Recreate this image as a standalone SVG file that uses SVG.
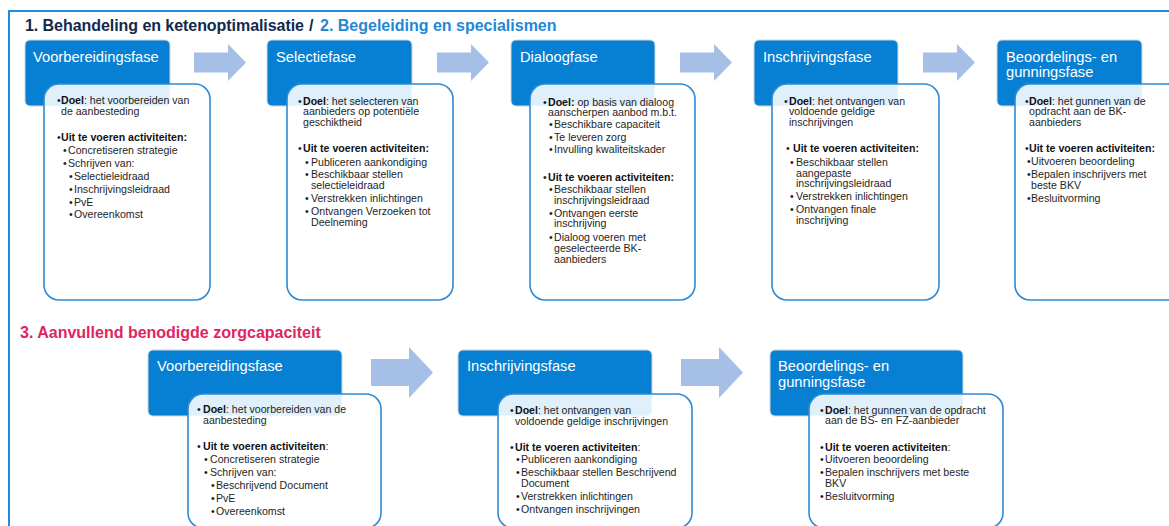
<svg xmlns="http://www.w3.org/2000/svg" width="1169" height="526" viewBox="0 0 1169 526">
<style>
.frame{fill:none;stroke:#1f8be0;stroke-width:2}
.hdr{fill:#0780d3;stroke:#cfd8e2;stroke-width:1}
.card{fill:#ffffff;fill-opacity:0.88;stroke:#2f8ad5;stroke-width:1.6}
.arrow{fill:#a6bfe7}
.ht{font-family:"Liberation Sans",Arial,sans-serif;font-size:14.7px;fill:#ffffff}
.t{font-family:"Liberation Sans",Arial,sans-serif;font-size:10.6px;fill:#1e1e1e}
.b{font-weight:bold;fill:#111111}
.ti{font-family:"Liberation Sans",Arial,sans-serif;font-weight:bold;font-size:16px}
</style>
<defs>
<path id="arT" d="M0,52.5 H34 V44 L52,62.5 L34,81 V72.5 H0 Z"/>
<path id="arB" d="M0,359 H38 V347 L62,372.5 L38,398 V386 H0 Z"/>
</defs>
<rect width="1169" height="526" fill="#ffffff"/>
<rect class="frame" x="9" y="11" width="1200" height="600"/>
<g id="titles">
<text class="ti" x="25" y="31" fill="#13294b" textLength="279">1. Behandeling en ketenoptimalisatie</text>
<text class="ti" x="309" y="31" fill="#13294b">/</text>
<text class="ti" x="320" y="31" fill="#1f87d6">2. Begeleiding en specialismen</text>
<text class="ti" x="20" y="338" fill="#e0245e">3. Aanvullend benodigde zorgcapaciteit</text>
</g>
<g id="connectors">
<use href="#arT" class="arrow" x="194"/>
<use href="#arT" class="arrow" x="437"/>
<use href="#arT" class="arrow" x="680"/>
<use href="#arT" class="arrow" x="923"/>
<use href="#arB" class="arrow" x="371"/>
<use href="#arB" class="arrow" x="681"/>
</g>
<g id="top-voorbereidingsfase">
<rect class="hdr" x="25" y="40" width="145" height="66" rx="5"/>
<text class="ht" x="33" y="62">Voorbereidingsfase</text>
<rect class="card" x="44" y="84" width="166" height="216" rx="15"/>
<text class="t" y="104"><tspan x="57">•</tspan><tspan x="61" class="b">Doel</tspan>: het voorbereiden van</text>
<text class="t" x="61" y="115">de aanbesteding</text>
<text class="t" y="141"><tspan x="57">•</tspan><tspan x="61" class="b">Uit te voeren activiteiten:</tspan></text>
<text class="t" y="154"><tspan x="63">•</tspan><tspan x="68">Concretiseren strategie</tspan></text>
<text class="t" y="167"><tspan x="63">•</tspan><tspan x="68">Schrijven van:</tspan></text>
<text class="t" y="180"><tspan x="69">•</tspan><tspan x="74">Selectieleidraad</tspan></text>
<text class="t" y="193"><tspan x="69">•</tspan><tspan x="74">Inschrijvingsleidraad</tspan></text>
<text class="t" y="206"><tspan x="69">•</tspan><tspan x="74">PvE</tspan></text>
<text class="t" y="218"><tspan x="69">•</tspan><tspan x="74">Overeenkomst</tspan></text>
</g>
<g id="top-selectiefase">
<rect class="hdr" x="267" y="40" width="145" height="66" rx="5"/>
<text class="ht" x="276" y="62">Selectiefase</text>
<rect class="card" x="287" y="84" width="166" height="216" rx="15"/>
<text class="t" y="105"><tspan x="298">•</tspan><tspan x="303" class="b">Doel</tspan>: het selecteren van</text>
<text class="t" x="303" y="115">aanbieders op potentiële</text>
<text class="t" x="303" y="126">geschiktheid</text>
<text class="t" y="152"><tspan x="298">•</tspan><tspan x="303" class="b">Uit te voeren activiteiten:</tspan></text>
<text class="t" y="166"><tspan x="305">•</tspan><tspan x="311">Publiceren aankondiging</tspan></text>
<text class="t" y="178"><tspan x="305">•</tspan><tspan x="311">Beschikbaar stellen</tspan></text>
<text class="t" x="311" y="189">selectieleidraad</text>
<text class="t" y="202"><tspan x="305">•</tspan><tspan x="311">Verstrekken inlichtingen</tspan></text>
<text class="t" y="215"><tspan x="305">•</tspan><tspan x="311">Ontvangen Verzoeken tot</tspan></text>
<text class="t" x="311" y="226">Deelneming</text>
</g>
<g id="top-dialoogfase">
<rect class="hdr" x="511" y="40" width="144" height="66" rx="5"/>
<text class="ht" x="520" y="62">Dialoogfase</text>
<rect class="card" x="530" y="84" width="165" height="216" rx="15"/>
<text class="t" y="106"><tspan x="543">•</tspan><tspan x="548" class="b">Doel:</tspan> op basis van dialoog</text>
<text class="t" x="548" y="116">aanscherpen aanbod m.b.t.</text>
<text class="t" y="128"><tspan x="549">•</tspan><tspan x="554">Beschikbare capaciteit</tspan></text>
<text class="t" y="141"><tspan x="549">•</tspan><tspan x="554">Te leveren zorg</tspan></text>
<text class="t" y="153"><tspan x="549">•</tspan><tspan x="554">Invulling kwaliteitskader</tspan></text>
<text class="t" y="181"><tspan x="543">•</tspan><tspan x="548" class="b">Uit te voeren activiteiten:</tspan></text>
<text class="t" y="193"><tspan x="549">•</tspan><tspan x="554">Beschikbaar stellen</tspan></text>
<text class="t" x="554" y="204">inschrijvingsleidraad</text>
<text class="t" y="217"><tspan x="549">•</tspan><tspan x="554">Ontvangen eerste</tspan></text>
<text class="t" x="554" y="227">inschrijving</text>
<text class="t" y="241"><tspan x="549">•</tspan><tspan x="554">Dialoog voeren met</tspan></text>
<text class="t" x="554" y="252">geselecteerde BK-</text>
<text class="t" x="554" y="263">aanbieders</text>
</g>
<g id="top-inschrijvingsfase">
<rect class="hdr" x="754" y="40" width="144" height="66" rx="5"/>
<text class="ht" x="763" y="62">Inschrijvingsfase</text>
<rect class="card" x="772" y="84" width="167" height="216" rx="15"/>
<text class="t" y="105"><tspan x="784">•</tspan><tspan x="789" class="b">Doel</tspan>: het ontvangen van</text>
<text class="t" x="789" y="115">voldoende geldige</text>
<text class="t" x="789" y="126">inschrijvingen</text>
<text class="t" y="152"><tspan x="786">•</tspan><tspan x="793" class="b">Uit te voeren activiteiten:</tspan></text>
<text class="t" y="166"><tspan x="790">•</tspan><tspan x="796">Beschikbaar stellen</tspan></text>
<text class="t" x="796" y="177">aangepaste</text>
<text class="t" x="796" y="187">inschrijvingsleidraad</text>
<text class="t" y="200"><tspan x="790">•</tspan><tspan x="796">Verstrekken inlichtingen</tspan></text>
<text class="t" y="213"><tspan x="790">•</tspan><tspan x="796">Ontvangen finale</tspan></text>
<text class="t" x="796" y="224">inschrijving</text>
</g>
<g id="top-beoordelingsfase">
<rect class="hdr" x="997" y="40" width="145" height="66" rx="5"/>
<text class="ht" x="1006" y="62">Beoordelings- en</text>
<text class="ht" x="1006" y="77">gunningsfase</text>
<rect class="card" x="1015" y="84" width="167" height="216" rx="15"/>
<text class="t" y="105"><tspan x="1025">•</tspan><tspan x="1029" class="b">Doel</tspan>: het gunnen van de</text>
<text class="t" x="1029" y="115">opdracht aan de BK-</text>
<text class="t" x="1029" y="126">aanbieders</text>
<text class="t" y="152"><tspan x="1025">•</tspan><tspan x="1029" class="b">Uit te voeren activiteiten:</tspan></text>
<text class="t" y="165"><tspan x="1027">•</tspan><tspan x="1031">Uitvoeren beoordeling</tspan></text>
<text class="t" y="178"><tspan x="1027">•</tspan><tspan x="1031">Bepalen inschrijvers met</tspan></text>
<text class="t" x="1031" y="189">beste BKV</text>
<text class="t" y="202"><tspan x="1027">•</tspan><tspan x="1031">Besluitvorming</tspan></text>
</g>
<g id="bottom-voorbereidingsfase">
<rect class="hdr" x="148" y="350" width="194" height="66" rx="5"/>
<text class="ht" x="157" y="371">Voorbereidingsfase</text>
<rect class="card" x="188" y="394" width="193" height="134" rx="15"/>
<text class="t" y="413"><tspan x="197">•</tspan><tspan x="203" class="b">Doel</tspan>: het voorbereiden van de</text>
<text class="t" x="203" y="424">aanbesteding</text>
<text class="t" y="450"><tspan x="197">•</tspan><tspan x="203" class="b">Uit te voeren activiteiten</tspan>:</text>
<text class="t" y="463"><tspan x="204">•</tspan><tspan x="210">Concretiseren strategie</tspan></text>
<text class="t" y="476"><tspan x="204">•</tspan><tspan x="210">Schrijven van:</tspan></text>
<text class="t" y="489"><tspan x="211">•</tspan><tspan x="216">Beschrijvend Document</tspan></text>
<text class="t" y="502"><tspan x="211">•</tspan><tspan x="216">PvE</tspan></text>
<text class="t" y="515"><tspan x="211">•</tspan><tspan x="216">Overeenkomst</tspan></text>
</g>
<g id="bottom-inschrijvingsfase">
<rect class="hdr" x="458" y="350" width="194" height="66" rx="5"/>
<text class="ht" x="467" y="371">Inschrijvingsfase</text>
<rect class="card" x="498" y="394" width="194" height="134" rx="15"/>
<text class="t" y="414"><tspan x="510">•</tspan><tspan x="515" class="b">Doel</tspan>: het ontvangen van</text>
<text class="t" x="515" y="425">voldoende geldige inschrijvingen</text>
<text class="t" y="451"><tspan x="510">•</tspan><tspan x="515" class="b">Uit te voeren activiteiten</tspan>:</text>
<text class="t" y="463"><tspan x="516">•</tspan><tspan x="521">Publiceren aankondiging</tspan></text>
<text class="t" y="476"><tspan x="516">•</tspan><tspan x="521">Beschikbaar stellen Beschrijvend</tspan></text>
<text class="t" x="521" y="487">Document</text>
<text class="t" y="500"><tspan x="516">•</tspan><tspan x="521">Verstrekken inlichtingen</tspan></text>
<text class="t" y="513"><tspan x="516">•</tspan><tspan x="521">Ontvangen inschrijvingen</tspan></text>
</g>
<g id="bottom-beoordelingsfase">
<rect class="hdr" x="770" y="350" width="193" height="66" rx="5"/>
<text class="ht" x="778" y="371">Beoordelings- en</text>
<text class="ht" x="778" y="387">gunningsfase</text>
<rect class="card" x="809" y="394" width="194" height="134" rx="15"/>
<text class="t" y="414"><tspan x="820">•</tspan><tspan x="825" class="b">Doel</tspan>: het gunnen van de opdracht</text>
<text class="t" x="825" y="424">aan de BS- en FZ-aanbieder</text>
<text class="t" y="451"><tspan x="820">•</tspan><tspan x="825" class="b">Uit te voeren activiteiten</tspan>:</text>
<text class="t" y="463"><tspan x="820">•</tspan><tspan x="825">Uitvoeren beoordeling</tspan></text>
<text class="t" y="476"><tspan x="820">•</tspan><tspan x="825">Bepalen inschrijvers met beste</tspan></text>
<text class="t" x="825" y="487">BKV</text>
<text class="t" y="500"><tspan x="820">•</tspan><tspan x="825">Besluitvorming</tspan></text>
</g>
</svg>
